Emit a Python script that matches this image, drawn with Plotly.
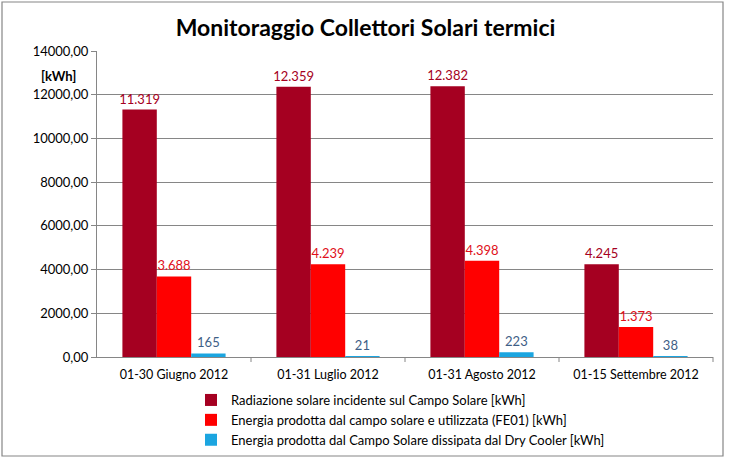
import plotly.graph_objects as go

categories = ["01-30 Giugno 2012", "01-31 Luglio 2012", "01-31 Agosto 2012", "01-15 Settembre 2012"]
radiazione = [11319, 12359, 12382, 4245]
energia_utilizzata = [3688, 4239, 4398, 1373]
energia_dissipata = [165, 21, 223, 38]
names = [
    "Radiazione solare incidente sul Campo Solare [kWh]",
    "Energia prodotta dal campo solare e utilizzata (FE01) [kWh]",
    "Energia prodotta dal Campo Solare dissipata dal Dry Cooler [kWh]",
]
tick_vals = [0, 2000, 4000, 6000, 8000, 10000, 12000, 14000]

FONT = "Lato"
W, H = 731, 459
L, R, T, B = 97, 18, 51, 102

fig = go.Figure()
series = [
    (radiazione, "#A50021", "#A50021"),
    (energia_utilizzata, "#FF0000", "#E0101A"),
    (energia_dissipata, "#1BA5E0", "#3E5E86"),
]
for (vals, col, tcol), nm in zip(series, names):
    fig.add_trace(go.Bar(
        x=categories, y=vals, name=nm,
        marker=dict(color=col, line=dict(width=0)),
        texttemplate="%{y:,.0f}", textposition="outside",
        textfont=dict(color=tcol, size=13, family=FONT),
        constraintext="none",
        cliponaxis=False,
    ))

pw = W - L - R
ph = H - T - B
def px(x):
    return (x - L) / pw
def py(y):
    return (H - B - y) / ph

fig.add_shape(type="rect", xref="paper", yref="paper",
              x0=px(2), x1=px(723), y0=py(456), y1=py(2),
              line=dict(color="#868686", width=1.2), fillcolor="rgba(0,0,0,0)", layer="below")

fig.add_annotation(text="<b>[kWh]</b>", xref="paper", yref="paper", x=px(58), y=py(76),
                   showarrow=False, font=dict(family=FONT, size=13, color="#000000"),
                   xanchor="center", yanchor="middle")

fig.update_layout(
    width=W, height=H,
    margin=dict(l=L, r=R, t=T, b=B, autoexpand=False),
    paper_bgcolor="white", plot_bgcolor="white",
    separators=",.",
    barmode="group", bargap=0.33, bargroupgap=0,
    title=dict(text="<b>Monitoraggio Collettori Solari termici</b>", x=0.5, xref="container",
               xanchor="center", y=1 - 28 / H, yanchor="middle",
               font=dict(family=FONT, size=23, color="#000000")),
    font=dict(family=FONT, size=12, color="#000000"),
    showlegend=True,
    legend=dict(orientation="v", x=px(191), y=py(385), xanchor="left", yanchor="top",
                font=dict(family=FONT, size=13, color="#000000"),
                itemwidth=30, tracegroupgap=6, bgcolor="rgba(0,0,0,0)",
                traceorder="normal"),
    xaxis=dict(showline=True, linecolor="#868686", linewidth=1, ticks="",
               showgrid=False, tickfont=dict(family=FONT, size=12.5, color="#000000"),
               ticklabelstandoff=6),
    yaxis=dict(range=[0, 14000], tickvals=tick_vals, tickformat=".2f",
               showline=True, linecolor="#868686", linewidth=1,
               ticks="outside", ticklen=5, tickcolor="#868686",
               gridcolor="#868686", gridwidth=1, zeroline=False,
               tickfont=dict(family=FONT, size=13, color="#000000")),
)

# category boundary ticks on x axis
for i in range(1, len(categories)):
    fig.add_shape(type="line", xref="x", yref="paper", x0=i - 0.5, x1=i - 0.5,
                  y0=0, y1=-5 / ph, line=dict(color="#868686", width=1))
fig.add_shape(type="line", xref="paper", yref="paper", x0=1, x1=1,
              y0=0, y1=-5 / ph, line=dict(color="#868686", width=1))

fig.write_html("out.html", config={"displayModeBar": False},
               post_script="document.body.style.margin='0';")
